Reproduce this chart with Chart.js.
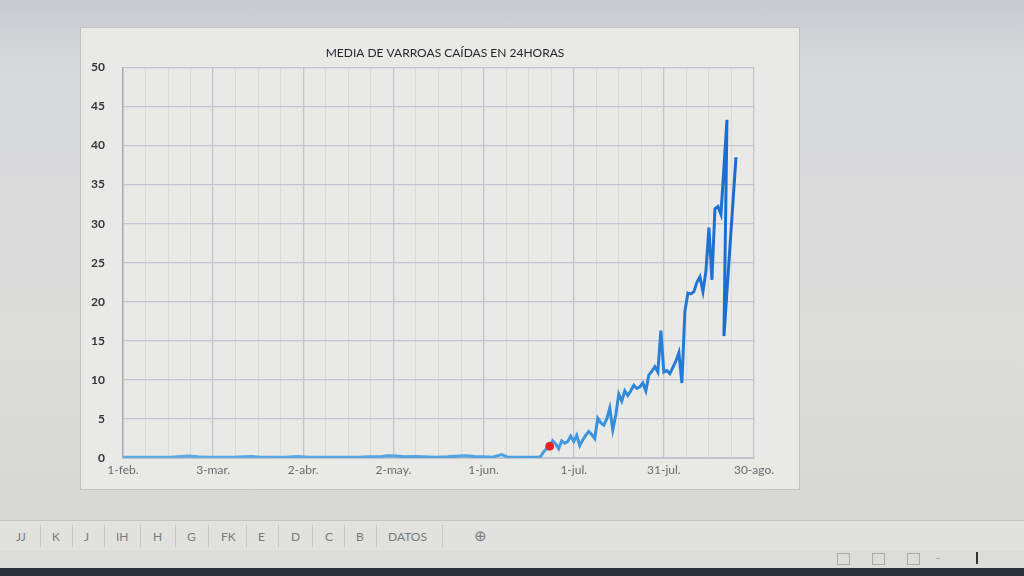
<!DOCTYPE html>
<html>
<head>
<meta charset="utf-8">
<script src="https://cdn.jsdelivr.net/npm/chart.js@4"></script>
<style>
  html, body { margin: 0; padding: 0; }
  body {
    width: 1024px; height: 576px; overflow: hidden; position: relative;
    background: linear-gradient(180deg, #c9cbd0 0%, #d8d9dc 12%, #dcdcda 60%, #d6d6d3 100%);
    font-family: Lato, "Open Sans", sans-serif;
  }
  #box {
    position: absolute; left: 80px; top: 27px; width: 720px; height: 463px;
    background: #e9e9e6; border: 1px solid #bfc1c5; box-sizing: border-box;
  }
  #tabs {
    position: absolute; left: 0; top: 520px; width: 1024px; height: 30px;
    background: #e1e1de; border-top: 1px solid #c4c4c2;
    font-size: 12px; color: #7a7a80;
  }
  #tabs span { position: absolute; top: 8px; }
  #tabs i { position: absolute; top: 4px; width: 1px; height: 22px; background: #c8c8c6; }
  #status { position: absolute; left: 0; top: 550px; width: 1024px; height: 18px; background: #dcdcd9; }
  #status b { position: absolute; top: 3px; width: 11px; height: 10px; border: 1px solid #a9a9ad; }
  #taskbar { position: absolute; left: 0; top: 568px; width: 1024px; height: 8px; background: #2c303a; }
</style>
</head>
<body>
<div id="box"><canvas id="myChart"></canvas></div>
<div id="tabs">
  <span style="left:16px">JJ</span><i style="left:40px"></i>
  <span style="left:52px">K</span><i style="left:72px"></i>
  <span style="left:84px">J</span><i style="left:104px"></i>
  <span style="left:116px">IH</span><i style="left:140px"></i>
  <span style="left:153px">H</span><i style="left:175px"></i>
  <span style="left:187px">G</span><i style="left:208px"></i>
  <span style="left:221px">FK</span><i style="left:246px"></i>
  <span style="left:258px">E</span><i style="left:278px"></i>
  <span style="left:291px">D</span><i style="left:312px"></i>
  <span style="left:325px">C</span><i style="left:344px"></i>
  <span style="left:356px">B</span><i style="left:376px"></i>
  <span style="left:388px">DATOS</span><i style="left:442px"></i>
  <span style="left:474px; top:5px; font-size:15px">&#8853;</span>
</div>
<div id="status">
  <b style="left:837px"></b><b style="left:872px"></b><b style="left:907px"></b>
  <b style="left:936px; top:8px; width:4px; height:0; border-width:1px 0 0 0"></b>
  <b style="left:976px; top:2px; width:2px; height:12px; background:#333; border:0"></b>
</div>
<div id="taskbar"></div>
<script>
// ------------------ Datos -------------------
// dias desde 1-feb.
var dias = [0, 4, 8, 12, 16, 19, 22, 25, 29, 33, 37, 40, 43, 46, 50, 54, 58, 62, 66, 70, 74, 78, 82, 86, 88, 91, 94, 97, 100, 104, 108, 112, 114, 117, 120, 123, 126, 128, 131, 135,
  138, 139, 140, 141, 142, 143, 144, 145, 146, 147, 148, 149, 150, 151, 152, 153, 154, 155, 156, 157, 158, 159, 160, 161, 162, 163, 164, 165, 166, 167, 168, 169,
  170, 171, 172, 173, 174, 175, 176, 177, 178, 179, 180, 181, 182, 183, 184, 185, 186, 187, 188, 189, 190, 191, 192, 193, 194, 195, 196, 197, 198, 199,
  201, 200, 204];
var varroas = [0.1, 0.1, 0.1, 0.1, 0.1, 0.2, 0.25, 0.15, 0.1, 0.1, 0.1, 0.15, 0.2, 0.1, 0.1, 0.1, 0.2, 0.1, 0.1, 0.1, 0.1, 0.1, 0.15, 0.2, 0.3, 0.25, 0.15, 0.2, 0.15, 0.1, 0.15, 0.25, 0.3, 0.2, 0.15, 0.1, 0.45, 0.1, 0.1, 0.1,
  0.1, 0.2, 0.8, 1.2, 1.5, 2.2, 1.8, 1.2, 2.2, 1.9, 2.1, 2.8, 2.1, 2.9, 1.6, 2.3, 2.9, 3.4, 3.0, 2.5, 5.1, 4.5, 4.2, 5.0, 6.4, 3.6, 5.5, 8.2, 7.3, 8.6, 8.0, 8.6,
  9.3, 8.9, 9.1, 9.6, 8.6, 10.6, 11.1, 11.7, 11.0, 16.3, 11.0, 11.2, 10.8, 11.6, 12.4, 13.5, 9.6, 18.8, 21.1, 21.0, 21.3, 22.5, 23.2, 21.3, 23.9, 29.5, 22.8, 31.9, 32.2, 31.2,
  43.3, 15.6, 38.5];
// punto rojo
var diaRojo = [142];
var valorRojo = [1.5];

var etiquetasX = ['1-feb.', '3-mar.', '2-abr.', '2-may.', '1-jun.', '1-jul.', '31-jul.', '30-ago.'];

var puntos = dias.map(function (d, i) { return { x: d, y: varroas[i] }; });
var puntosRojos = diaRojo.map(function (d, i) { return { x: d, y: valorRojo[i] }; });

// color degradado de la linea (claro a la izquierda, oscuro a la derecha)
function colorLinea(ctx) {
  var area = ctx.chart.chartArea;
  if (!area) return '#3b93db';
  var g = ctx.chart.ctx.createLinearGradient(area.left, 0, area.right, 0);
  g.addColorStop(0, '#62abe0');
  g.addColorStop(0.65, '#4da0e0');
  g.addColorStop(0.8, '#2f8ad9');
  g.addColorStop(0.95, '#1b6ed2');
  g.addColorStop(1, '#1966cf');
  return g;
}

var ctx = document.getElementById('myChart').getContext('2d');
var myChart = new Chart(ctx, {
  type: 'line',
  data: {
    datasets: [{
      label: 'Rojo',
      data: puntosRojos,
      showLine: false,
      pointRadius: 4,
      pointBackgroundColor: '#e02424',
      pointBorderColor: '#e02424',
      order: 0
    }, {
      label: 'Media de varroas',
      data: puntos,
      borderColor: colorLinea,
      borderWidth: 3,
      pointRadius: 0,
      tension: 0,
      fill: false,
      order: 1
    }]
  },
  options: {
    responsive: true,
    maintainAspectRatio: false,
    animation: false,
    layout: { padding: { top: 18, right: 0, left: 10, bottom: 0 } },
    plugins: {
      legend: { display: false },
      tooltip: { enabled: false },
      title: {
        display: true,
        text: 'MEDIA DE VARROAS CAÍDAS EN 24HORAS',
        color: '#26262c',
        font: { family: 'Lato', size: 12, weight: 'normal' },
        padding: { top: 0, bottom: 7 }
      }
    },
    scales: {
      x: {
        type: 'linear',
        min: 0,
        max: 210,
        afterBuildTicks: function (scale) {
          var t = [];
          for (var v = 0; v <= 210; v += 7.5) t.push({ value: v });
          scale.ticks = t;
        },
        afterFit: function (scale) { scale.height = 31; },
        ticks: {
          autoSkip: false,
          maxRotation: 0,
          padding: 5,
          color: '#6a6a70',
          font: { family: 'Lato', size: 12 },
          callback: function (v) {
            return v % 30 === 0 ? etiquetasX[v / 30] : '';
          }
        },
        grid: {
          drawTicks: false,
          color: function (c) {
            return c.tick && c.tick.value % 30 === 0 ? '#c3c4d2' : '#d9d9de';
          },
          lineWidth: function (c) {
            return c.tick && c.tick.value % 30 === 0 ? 1.3 : 1;
          }
        },
        border: { color: '#c3c4d2' }
      },
      y: {
        min: 0,
        max: 50,
        afterFit: function (scale) { scale.width = 32; },
        ticks: {
          stepSize: 5,
          padding: 18,
          color: '#34343e',
          font: { family: 'Lato', size: 12, weight: 'bold' }
        },
        grid: { drawTicks: false, color: '#c3c4d2', lineWidth: 1.3 },
        border: { color: '#a9abb8', width: 1.5 }
      },
      // eje vacio a la derecha, solo para dejar el margen
      margen: {
        position: 'right',
        min: 0,
        max: 50,
        afterFit: function (scale) { scale.width = 45; },
        ticks: { display: false },
        grid: { display: false, drawTicks: false },
        border: { display: false }
      }
    }
  }
});
</script>
</body>
</html>
